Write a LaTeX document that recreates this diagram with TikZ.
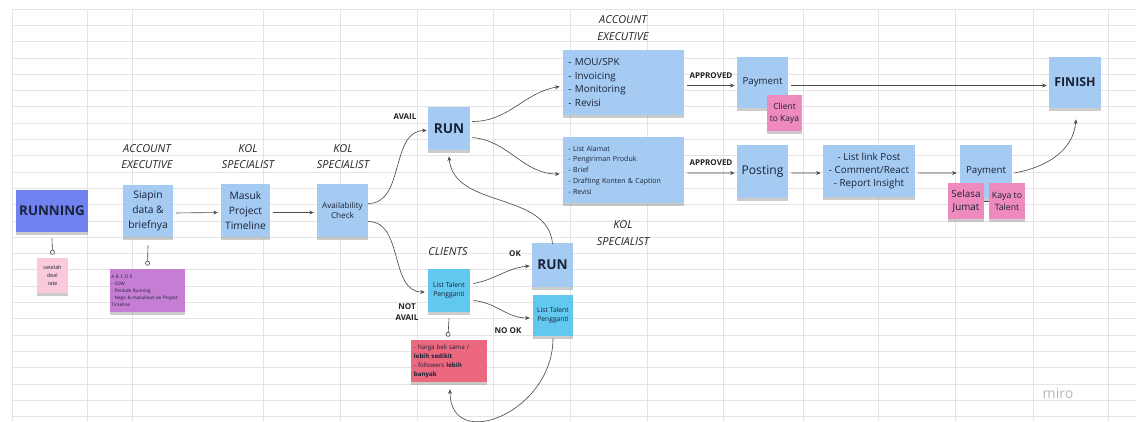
\documentclass[tikz,border=0pt]{standalone}
\usepackage{fontspec}
\setmainfont{Open Sans}
\usetikzlibrary{calc,arrows.meta,shadows}

\definecolor{noteblue}{RGB}{166,203,242}
\definecolor{notecyan}{RGB}{98,200,240}
\definecolor{runblue}{RGB}{112,130,240}
\definecolor{notelight}{RGB}{250,202,220}
\definecolor{notepurple}{RGB}{198,125,212}
\definecolor{notepink}{RGB}{238,138,190}
\definecolor{notered}{RGB}{236,104,126}
\definecolor{gridgray}{RGB}{228,228,228}
\definecolor{linegray}{RGB}{75,75,75}
\definecolor{notetext}{RGB}{24,34,56}
\definecolor{rolegray}{RGB}{35,35,35}

\def\fs#1#2{\fontsize{#1}{#2}\selectfont}

\tikzset{
	sticky/.style={fill=noteblue, text=notetext, inner sep=1pt, align=center,
		drop shadow={shadow xshift=0pt, shadow yshift=-1.8pt, opacity=0.4}},
	flow/.style={draw=linegray, line width=0.45pt, -{Stealth[length=3.2pt,width=2.8pt]}},
	pin/.style={draw=linegray, line width=0.45pt, -{Circle[open,length=3.4pt,width=3.4pt,fill=white]}},
	role/.style={font=\itshape\fs{7.8}{11.8}, align=center, text=rolegray},
	tag/.style={font=\bfseries\fs{5.7}{8.4}, align=center, text=rolegray},
	gridline/.style={draw=gridgray, line width=0.5pt},
}

\begin{document}
\begin{tikzpicture}[x=0.025cm, y=0.025cm]
		%%%%% START %%%%%
		\useasboundingbox[fill=white] (0,0) rectangle (1136,-421);
		
		% sheet grid
		\foreach \gx in {12,87,132,263,340,417,493,570,647,723,803,878,955,1033,1108}
			\draw[gridline] (\gx,-9) -- (\gx,-421);
		\foreach \gy in {9,25.3,...,421}
			\draw[gridline] (12,-\gy) -- (1136,-\gy);
		
		% roles
		\node[role] (roleAE) at (147,-156.5) {ACCOUNT\\EXECUTIVE};
		\node[role] (roleKOLa) at (248,-156.5) {KOL\\SPECIALIST};
		\node[role] (roleKOLb) at (343,-156.5) {KOL\\SPECIALIST};
		\node[role] (roleAEtop) at (623,-28) {ACCOUNT\\EXECUTIVE};
		\node[role] (roleKOLc) at (623,-233) {KOL\\SPECIALIST};
		\node[role] (roleClients) at (448,-252) {CLIENTS};
		
		% left part
		\node[sticky, fill=runblue, minimum width=1.8cm, minimum height=1.05cm, font=\bfseries\fs{9.5}{11}] (running) at (52,-211) {RUNNING};
		\node[sticky, fill=notelight, minimum width=0.78cm, minimum height=0.88cm, font=\fs{3.8}{5.5}] (dealNote) at (52.5,-275.5) {setelah\\deal\\rate};
		\node[sticky, minimum width=1.25cm, minimum height=1.3cm, font=\fs{7.3}{10.6}] (siapin) at (148,-211) {Siapin\\data \&\\briefnya};
		\node[sticky, fill=notepurple, minimum width=1.88cm, minimum height=1.08cm, text width=1.8cm, align=left, font=\fs{3.3}{5}] (abcNote) at (147.5,-290.5) {A B C D E\\- SOW\\- Periode Running\\- Nego \& masukkan ke Project\\Timeline};
		\node[sticky, minimum width=1.23cm, minimum height=1.33cm, font=\fs{7.3}{10.6}] (masuk) at (245.5,-210.5) {Masuk\\Project\\Timeline};
		\node[sticky, minimum width=1.28cm, minimum height=1.33cm, font=\fs{5.8}{7.2}] (avail) at (342.5,-210.5) {Availability\\Check};
		
		\draw[pin] ($(running.south)+(0,-6)$) -- ($(dealNote.north)+(0,3)$);
		\draw[pin] ($(siapin.south)+(0,-8)$) -- ($(abcNote.north)+(0,3)$);
		\draw[flow, shorten <=2pt, shorten >=2pt] ($(siapin.east)+(0,-2)$) -- ($(masuk.west)+(0,-2)$);
		\draw[flow, shorten <=2pt, shorten >=2pt] ($(masuk.east)+(0,-2)$) -- ($(avail.west)+(0,-2)$);
		
		% avail branch
		\node[sticky, minimum width=1.05cm, minimum height=1.08cm, font=\bfseries\fs{9.7}{11}] (runTop) at (449,-128.5) {RUN};
		\node[sticky, minimum width=3.03cm, minimum height=1.63cm, text width=2.75cm, align=left, font=\fs{7}{9.5}] (mou) at (623.5,-82.5) {- MOU/SPK\\- Invoicing\\- Monitoring\\- Revisi};
		\node[sticky, minimum width=3.03cm, minimum height=1.65cm, text width=2.75cm, align=left, font=\fs{5}{7.6}] (alamat) at (623.5,-170) {- List Alamat\\- Pengiriman Produk\\- Brief\\- Drafting Konten \& Caption\\- Revisi};
		\node[sticky, minimum width=1.28cm, minimum height=1.28cm, font=\fs{6.9}{9}] (payTop) at (762.5,-82.5) {Payment};
		\node[sticky, fill=notepink, minimum width=0.88cm, minimum height=0.9cm, font=\fs{6}{8.3}] (clientNote) at (784.5,-113) {Client\\to Kaya};
		\node[sticky, minimum width=1.3cm, minimum height=1.28cm, font=\bfseries\fs{8.8}{10}] (finish) at (1075,-82.5) {FINISH};
		\node[sticky, minimum width=1.28cm, minimum height=1.33cm, font=\fs{8.6}{10}] (posting) at (762.5,-171.5) {Posting};
		\node[sticky, minimum width=2.3cm, minimum height=1.3cm, font=\fs{7}{9.5}] (linkPost) at (869,-171) {- List link Post\\- Comment/React\\- Report Insight};
		\node[sticky, minimum width=1.3cm, minimum height=1.33cm, font=\fs{6.9}{9}] (payBottom) at (986,-171.5) {Payment};
		\node[sticky, fill=notepink, minimum width=0.9cm, minimum height=0.92cm, font=\fs{7}{9.5}] (selasa) at (966,-201) {Selasa\\Jumat};
		\node[sticky, fill=notepink, minimum width=0.9cm, minimum height=0.92cm, font=\fs{6.2}{8.5}] (kayaNote) at (1007,-201) {Kaya to\\Talent};
		
		\draw[flow] ($(avail.east)+(0,7)$) to[out=0, in=180] ($(runTop.west)+(-1,-2)$);
		\node[tag] (tagAvail) at (405,-117) {AVAIL};
		\draw[flow] ($(runTop.east)+(2,7)$) to[out=0, in=190] ($(mou.west)+(-3,-4)$);
		\draw[flow] ($(runTop.east)+(2,-9)$) to[out=-5, in=180] ($(alamat.west)+(-3,-4)$);
		\draw[flow] ($(mou.east)+(3,-3)$) -- node[tag, above=1.5pt] {APPROVED} ($(payTop.west)+(-2,-3)$);
		\draw[flow] ($(payTop.east)+(3,-3)$) -- ($(finish.west)+(-2,-3)$);
		\draw[flow] ($(alamat.east)+(3,-3)$) -- node[tag, above=1.5pt] {APPROVED} ($(posting.west)+(-2,-1.5)$);
		\draw[flow] ($(posting.east)+(3,-1.5)$) -- ($(linkPost.west)+(-2,-2)$);
		\draw[flow] ($(linkPost.east)+(3,-2)$) -- ($(payBottom.west)+(-3,-1.5)$);
		\draw[draw=linegray, line width=0.45pt] (selasa.east) -- (kayaNote.west);
		\draw[flow] ($(payBottom.east)+(2,-1.5)$) to[out=10, in=-95] ($(finish.south)+(1,-11)$);
		
		% not avail branch
		\node[sticky, fill=notecyan, minimum width=1.05cm, minimum height=1.08cm, font=\fs{4.8}{6.6}] (talentA) at (449,-290.5) {List Talent\\Pengganti};
		\node[sticky, minimum width=1.03cm, minimum height=1.1cm, font=\bfseries\fs{9.7}{11}] (runBottom) at (552.5,-265) {RUN};
		\node[sticky, fill=notecyan, minimum width=1.0cm, minimum height=1.03cm, font=\fs{4.8}{6.6}] (talentB) at (553,-315.5) {List Talent\\Pengganti};
		\node[sticky, fill=notered, minimum width=1.9cm, minimum height=1.05cm, text width=1.75cm, align=left, font=\fs{4.4}{6.4}] (redNote) at (449,-361) {- harga beli sama /\\\textbf{lebih sedikit}\\- followers \textbf{lebih}\\\textbf{banyak}};
		
		\draw[flow] ($(avail.east)+(0,-11)$) to[out=0, in=180] ($(talentA.west)+(-3,-1.5)$);
		\node[tag] (tagNotAvail) at (407,-312) {NOT\\AVAIL};
		\draw[flow] ($(talentA.east)+(3,7)$) to[out=10, in=185] ($(runBottom.west)+(-2,-1)$);
		\node[tag] (tagOk) at (515,-254) {OK};
		\draw[flow] ($(talentA.east)+(3,-10)$) to[out=-5, in=180] ($(talentB.west)+(-3,-2.5)$);
		\node[tag] (tagNoOk) at (508,-331) {NO OK};
		\draw[pin] ($(talentA.south)+(0,-6)$) -- ($(redNote.north)+(-1,3)$);
		\draw[flow] ($(runBottom.north)+(0,-1)$) to[out=95, in=-85] ($(runTop.south)+(0,-6)$);
		\draw[flow] ($(talentB.south)+(0,-2)$) .. controls +(0,-74) and +(0,-64) .. ($(redNote.south)+(1,-7)$);
		
		\node[text=black!28, font=\fs{10}{12}] (brand) at (1058,-393) {miro};
		%%%%% END %%%%%
	\end{tikzpicture}
\end{document}
